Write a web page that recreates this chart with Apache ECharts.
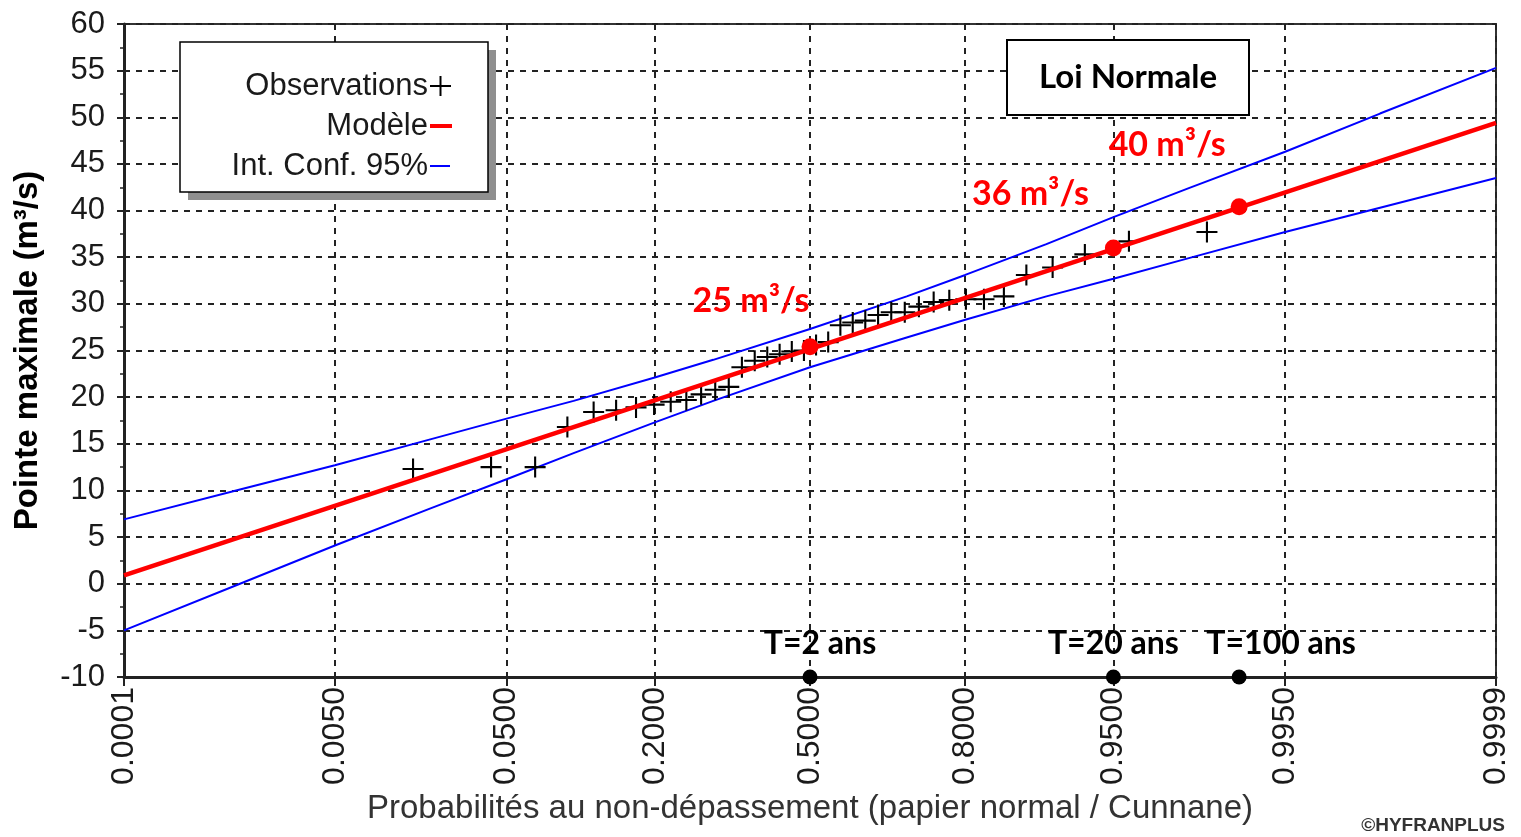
<!DOCTYPE html>
<html>
<head>
<meta charset="utf-8">
<script src="https://cdn.jsdelivr.net/npm/echarts@6.0.0/dist/echarts.min.js"></script>
<style>html,body{margin:0;padding:0;background:#fff}#c{width:1521px;height:837px}</style>
</head>
<body>
<div id="c"></div>
<script>
// ---------- data ----------
const probTicks = ['0.0001','0.0050','0.0500','0.2000','0.5000','0.8000','0.9500','0.9950','0.9999'];
// observations: non-exceedance probability (Cunnane positions) and flow (m3/s)
const obsProb = [0.0157,0.0419,0.0681,0.0942,0.1204,0.1466,0.1728,0.1990,0.2251,0.2513,0.2775,0.3037,0.3298,0.3560,0.3822,0.4084,0.4346,0.4607,0.4869,0.5131,0.5393,0.5654,0.5916,0.6178,0.6440,0.6702,0.6963,0.7225,0.7487,0.7749,0.8010,0.8272,0.8534,0.8796,0.9058,0.9319,0.9581,0.9843];
const obsFlow = [12.3,12.5,12.5,16.8,18.4,18.6,18.9,19.2,19.5,19.7,20.3,20.8,21.1,23.2,23.9,24.3,24.6,24.9,25.0,25.6,25.9,27.7,28.0,28.2,28.8,29.1,29.1,29.7,30.2,30.4,30.5,30.5,30.8,33.1,33.9,35.3,36.7,37.7];
// fitted normal model
const modelProb = [0.0001, 0.9999];
const modelFlow = [0.9, 49.4];
// 95% confidence interval
const ciProb  = [0.0001,0.001,0.005,0.02,0.05,0.1,0.2,0.3,0.5,0.7,0.8,0.9,0.95,0.98,0.995,0.999,0.9999];
const ciUpper = [6.9,10.1,12.7,15.5,17.7,19.6,22.1,24.0,27.3,30.8,33.1,36.4,39.3,42.4,46.3,50.4,55.3];
const ciLower = [-5.0,0.0,4.1,8.1,11.2,14.0,17.3,19.6,23.2,26.4,28.3,30.8,32.7,34.9,37.7,40.3,43.5];
// return-period quantiles
const qProb   = [0.5, 0.95, 0.99];
const qFlow   = [25.4, 36.0, 40.4];
const qLabels = ['25 m³/s','36 m³/s','40 m³/s'];
const tLabels = ['T=2 ans','T=20 ans','T=100 ans'];

// ---------- normal probability scale ----------
function probit(p){
  const a=[-3.969683028665376e+01,2.209460984245205e+02,-2.759285104469687e+02,1.383577518672690e+02,-3.066479806614716e+01,2.506628277459239e+00];
  const b=[-5.447609879822406e+01,1.615858368580409e+02,-1.556989798598866e+02,6.680131188771972e+01,-1.328068155288572e+01];
  const c=[-7.784894002430293e-03,-3.223964580411365e-01,-2.400758277161838e+00,-2.549671348386470e+00,4.374664141464968e+00,2.938163982698783e+00];
  const d=[7.784695709041462e-03,3.224671290700398e-01,2.445134137142996e+00,3.754408661907416e+00];
  const pl=0.02425, ph=1-pl; let q,r;
  if(p<pl){q=Math.sqrt(-2*Math.log(p));return (((((c[0]*q+c[1])*q+c[2])*q+c[3])*q+c[4])*q+c[5])/((((d[0]*q+d[1])*q+d[2])*q+d[3])*q+1);}
  if(p<=ph){q=p-0.5;r=q*q;return (((((a[0]*r+a[1])*r+a[2])*r+a[3])*r+a[4])*r+a[5])*q/(((((b[0]*r+b[1])*r+b[2])*r+b[3])*r+b[4])*r+1);}
  q=Math.sqrt(-2*Math.log(1-p));return -(((((c[0]*q+c[1])*q+c[2])*q+c[3])*q+c[4])*q+c[5])/((((d[0]*q+d[1])*q+d[2])*q+d[3])*q+1);
}
const tickZ = probTicks.map(t => probit(parseFloat(t)));
const zMin = tickZ[0], zMax = tickZ[tickZ.length-1];
const pair = (ps, vs) => ps.map((p,i) => [probit(p), vs[i]]);

const AR = '"Liberation Sans", Arial, sans-serif';
const CAL = 'Lato, "Liberation Sans", sans-serif';
const TXT = '#1a1a1a';

const qOffsets = [[-59,-46],[-83,-54],[-72,-62]];
const tOffsets = [[10,-33],[0,-33],[42,-33]];

const chart = echarts.init(document.getElementById('c'), null, {renderer:'canvas'});
chart.setOption({
  animation:false,
  backgroundColor:'#fff',
  grid:{left:124,right:25,top:24,bottom:160,show:true,borderColor:'#333',borderWidth:2,backgroundColor:'transparent'},
  xAxis:{
    type:'value', min:zMin, max:zMax,
    name:'Probabilités au non-dépassement (papier normal / Cunnane)',
    nameLocation:'middle', nameGap:114,
    nameTextStyle:{fontFamily:AR,fontSize:33,color:'#333'},
    axisLine:{show:true,onZero:false,lineStyle:{color:'#222',width:3}},
    axisTick:{show:true,customValues:tickZ,length:9,lineStyle:{color:'#222',width:2}},
    axisLabel:{customValues:tickZ,rotate:90,margin:10,fontFamily:AR,fontSize:32,color:TXT,
      formatter:function(v){for(let i=0;i<tickZ.length;i++){if(Math.abs(tickZ[i]-v)<1e-6)return probTicks[i];}return '';}},
    splitLine:{show:true,lineStyle:{type:[6,6],color:'#222',width:2}}
  },
  yAxis:{
    type:'value', min:-10, max:60, interval:5,
    name:'Pointe maximale (m³/s)', nameLocation:'middle', nameGap:80,
    nameTextStyle:{fontFamily:AR,fontSize:33,fontWeight:'bold',color:'#000'},
    axisLine:{show:true,onZero:false,lineStyle:{color:'#222',width:3}},
    axisTick:{show:true,length:7,lineStyle:{color:'#222',width:2}},
    minorTick:{show:true,splitNumber:2,length:4,lineStyle:{color:'#222',width:1.5}},
    axisLabel:{margin:19,fontFamily:AR,fontSize:31,color:TXT},
    splitLine:{show:true,lineStyle:{type:[6,6],color:'#222',width:2}}
  },
  series:[
    {name:'Int. Conf. 95% sup',type:'line',data:pair(ciProb,ciUpper),symbol:'none',lineStyle:{color:'#0000ff',width:2},z:3},
    {name:'Int. Conf. 95% inf',type:'line',data:pair(ciProb,ciLower),symbol:'none',lineStyle:{color:'#0000ff',width:2},z:3},
    {name:'Observations',type:'scatter',data:pair(obsProb,obsFlow),
      symbol:'path://M9,0H11V9H20V11H11V20H9V11H0V9H9Z',symbolSize:21,itemStyle:{color:'#000',opacity:1},z:4},
    {name:'Modèle',type:'line',data:pair(modelProb,modelFlow),symbol:'none',lineStyle:{color:'#ff0000',width:4.5},z:5},
    {name:'Quantiles',type:'scatter',z:6,clip:false,
      data:qProb.map((p,i)=>({value:[probit(p),qFlow[i]],
        label:{show:true,formatter:qLabels[i],offset:qOffsets[i],position:'inside',
          fontFamily:CAL,fontWeight:'bold',fontSize:34,color:'#ff0000',opacity:1}})),
      symbol:'circle',symbolSize:17,itemStyle:{color:'#ff0000',opacity:1}},
    {name:'Périodes de retour',type:'scatter',z:6,clip:false,
      data:qProb.map((p,i)=>({value:[probit(p),-10],
        label:{show:true,formatter:tLabels[i],offset:tOffsets[i],position:'inside',
          fontFamily:CAL,fontWeight:'bold',fontSize:32,color:'#000',opacity:1}})),
      symbol:'circle',symbolSize:15,itemStyle:{color:'#000',opacity:1}}
  ],
  graphic:[
    {type:'rect',z:99,shape:{x:188,y:50,width:308,height:150},style:{fill:'#8f8f8f'}},
    {type:'rect',z:100,shape:{x:180,y:42,width:308,height:150},style:{fill:'#fff',stroke:'#000',lineWidth:1.5}},
    {type:'text',z:101,x:428,y:86,style:{text:'Observations',align:'right',verticalAlign:'middle',font:'31px "Liberation Sans", Arial, sans-serif',fill:TXT}},
    {type:'text',z:101,x:428,y:126,style:{text:'Modèle',align:'right',verticalAlign:'middle',font:'31px "Liberation Sans", Arial, sans-serif',fill:TXT}},
    {type:'text',z:101,x:428,y:166,style:{text:'Int. Conf. 95%',align:'right',verticalAlign:'middle',font:'31px "Liberation Sans", Arial, sans-serif',fill:TXT}},
    {type:'line',z:101,shape:{x1:430,y1:86,x2:451,y2:86},style:{stroke:'#000',lineWidth:2}},
    {type:'line',z:101,shape:{x1:440.5,y1:76,x2:440.5,y2:96},style:{stroke:'#000',lineWidth:2}},
    {type:'line',z:101,shape:{x1:430,y1:126,x2:452,y2:126},style:{stroke:'#ff0000',lineWidth:4}},
    {type:'line',z:101,shape:{x1:430,y1:166,x2:450,y2:166},style:{stroke:'#0000ff',lineWidth:2}},
    {type:'rect',z:100,shape:{x:1007,y:40,width:242,height:75},style:{fill:'#fff',stroke:'#000',lineWidth:2}},
    {type:'text',z:101,x:1128,y:77,style:{text:'Loi Normale',align:'center',verticalAlign:'middle',font:'bold 33px Lato, sans-serif',fill:'#000'}},
    {type:'text',z:101,x:1505,y:826,style:{text:'©HYFRANPLUS',align:'right',verticalAlign:'middle',font:'bold 19px "Liberation Sans", Arial, sans-serif',fill:'#333'}}
  ]
});
</script>
</body>
</html>
